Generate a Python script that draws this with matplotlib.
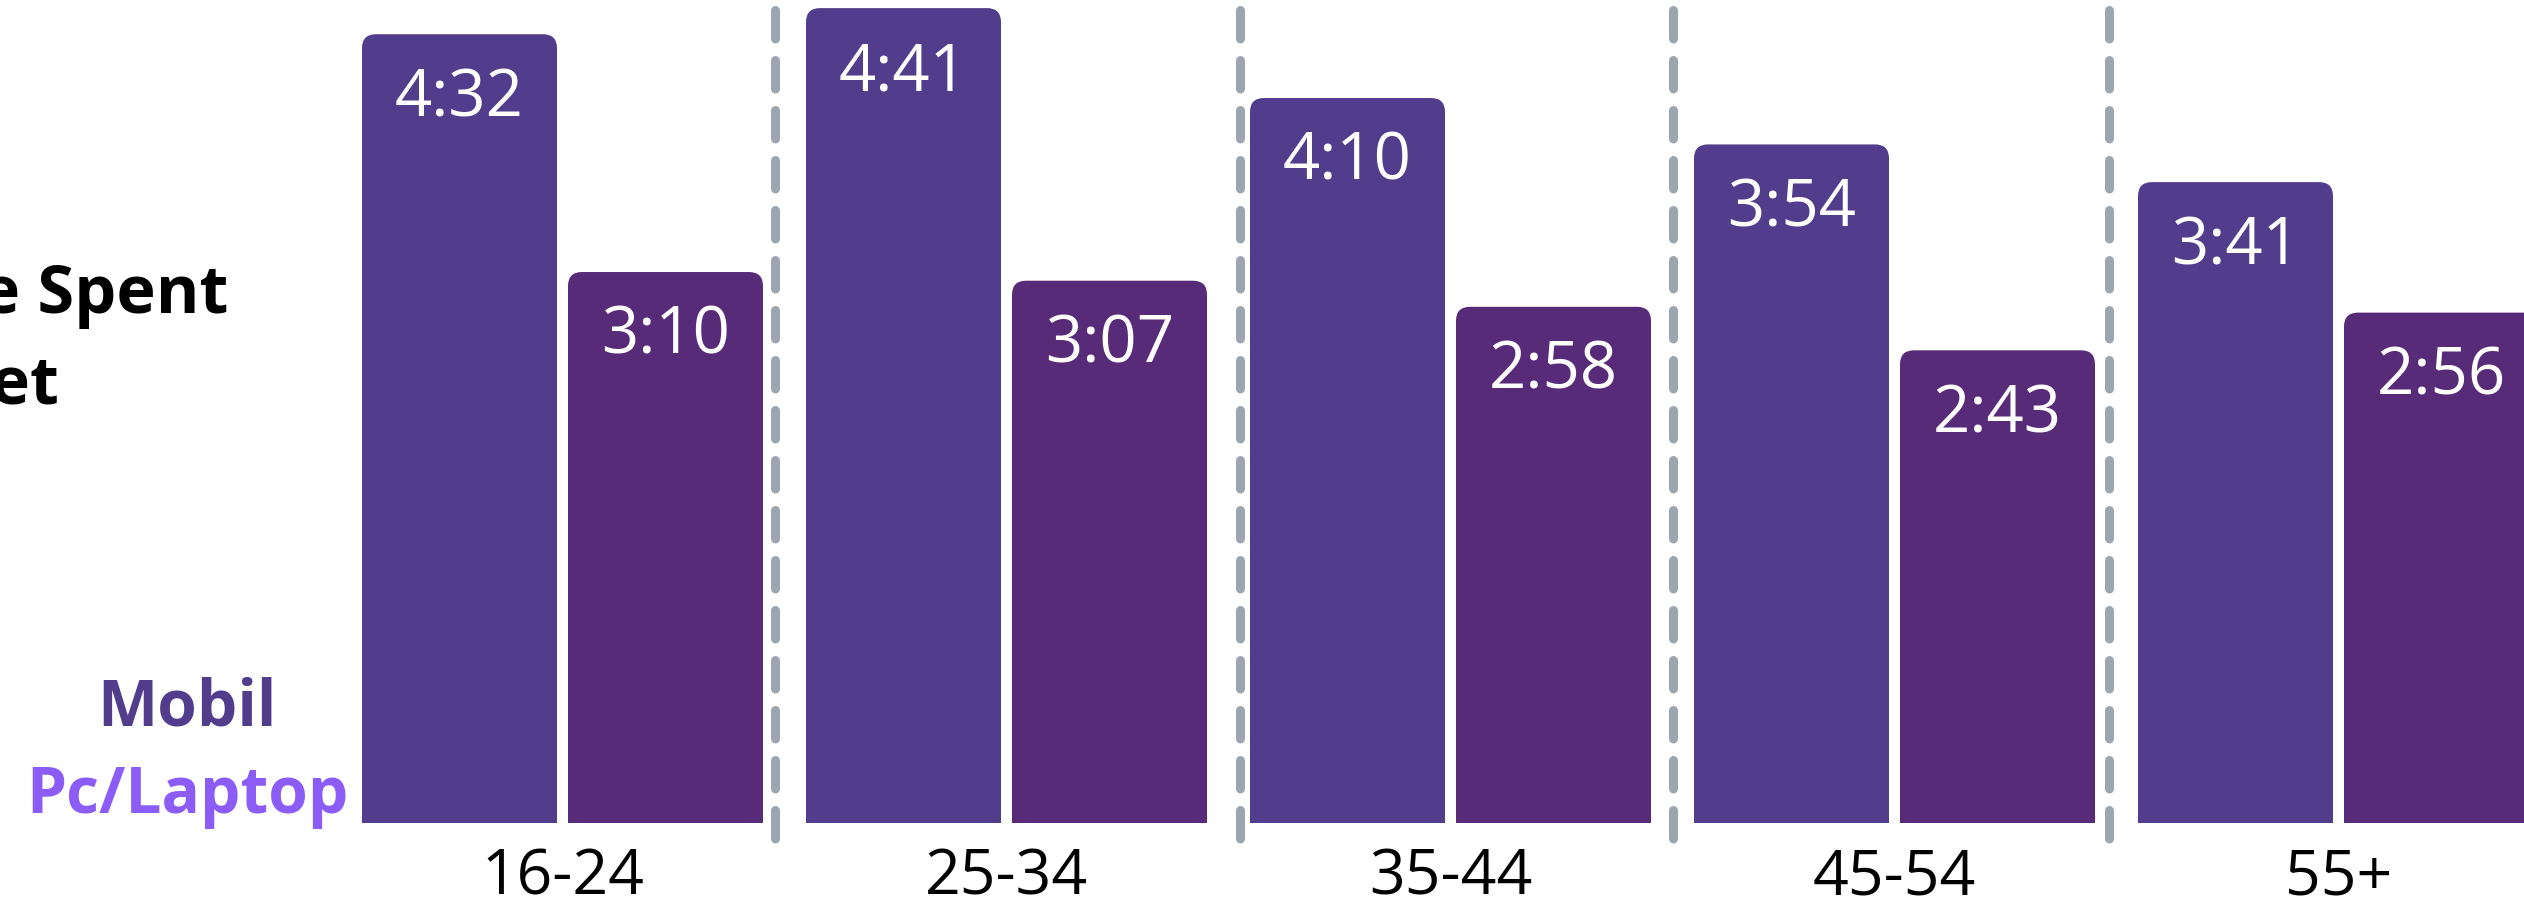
import numpy as np
import matplotlib
matplotlib.use("Agg")
import matplotlib.pyplot as plt
from matplotlib.patches import FancyBboxPatch

# daily time online by age group, in "h:mm"
age_groups = ["16-24", "25-34", "35-44", "45-54", "55+"]
mobil = ["4:32", "4:41", "4:10", "3:54", "3:41"]
pc_laptop = ["3:10", "3:07", "2:58", "2:43", "2:56"]


def to_minutes(s):
    h, m = s.split(":")
    return int(h) * 60 + int(m)


mobil_min = np.array([to_minutes(v) for v in mobil])
pc_min = np.array([to_minutes(v) for v in pc_laptop])

c_mobil = "#523c8c"
c_pc = "#582b78"
c_pc_legend = "#8b5cf6"
c_dash = "#9ba6b1"

plt.rcParams["lines.scale_dashes"] = False

W, H, DPI = 2524, 910, 100
fig = plt.figure(figsize=(W / DPI, H / DPI), dpi=DPI)
base_px = 823
ax = fig.add_axes([0, (H - base_px) / H, 1, base_px / H])

grp = 444.0  # pixels per group
ax.set_xlim(-562.5 / grp, (W - 562.5) / grp)
ax.set_ylim(0, 283.8)
for s in ax.spines.values():
    s.set_visible(False)
ax.set_yticks([])

x = np.arange(len(age_groups))
bw = 195 / grp
off = 103 / grp
b1 = ax.bar(x - off, mobil_min, bw, color=c_mobil)
b2 = ax.bar(x + off, pc_min, bw, color=c_pc)

# swap plain bars for ones with rounded tops
px_x = grp
px_y = base_px / 283.8
aspect = px_x / px_y
r = 14 / px_x
for bars in (b1, b2):
    for rect in bars:
        bx, bwid, bh = rect.get_x(), rect.get_width(), rect.get_height()
        col = rect.get_facecolor()
        rect.remove()
        ax.add_patch(FancyBboxPatch((bx, -r * aspect), bwid, bh + r * aspect,
                                    boxstyle=f"round,pad=0,rounding_size={r}",
                                    mutation_aspect=aspect, fc=col, ec="none"))

label_font = dict(family="Open Sans", size=47, color="white")
for xs, vals, txt in ((x - off, mobil_min, mobil), (x + off, pc_min, pc_laptop)):
    for xi, v, t in zip(xs, vals, txt):
        ax.annotate(t, (xi, v), xytext=(0, -59), textcoords="offset points",
                    ha="center", va="baseline", **label_font)

# dashed separators between the age groups
sep = [0.478, 1.527, 2.502, 3.484]
top_y = (base_px - 10) / px_y
bot_y = -26 / px_y
for sx in sep:
    ax.plot([sx, sx], [top_y, bot_y], color=c_dash, lw=6.5,
            dashes=(20.5, 15.5), dash_capstyle="round", clip_on=False,
            solid_capstyle="round")

ax.set_xticks(x)
ax.set_xticklabels(age_groups, family="Open Sans", size=45, color="black")
ax.tick_params(axis="x", length=0, pad=17)

title_font = dict(family="Open Sans", weight="bold", size=48, color="black")
fig.text(228 / W, 1 - 313 / H, "Daily Time Spent", ha="right", va="baseline", **title_font)
fig.text(59 / W, 1 - 403 / H, "on the Internet", ha="right", va="baseline", **title_font)

leg_font = dict(family="Open Sans", weight="bold", size=46)
fig.text(187 / W, 1 - 725 / H, "Mobil", ha="center", va="baseline", color=c_mobil, **leg_font)
fig.text(187 / W, 1 - 813 / H, "Pc/Laptop", ha="center", va="baseline", color=c_pc_legend, **leg_font)

fig.savefig("out.png", dpi=DPI, facecolor="white")
